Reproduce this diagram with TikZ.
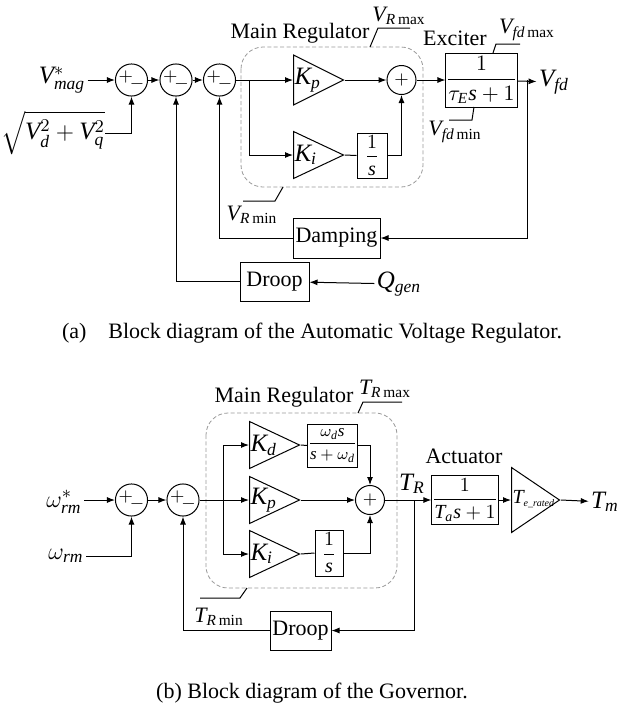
\documentclass[tikz,border=0pt]{standalone}
\usepackage{amsmath}
\usepackage{fontspec}
\setmainfont{Liberation Serif}
\DeclareSymbolFont{tletters}{TU}{\rmdefault}{m}{it}
\def\setletters#1{\ifx#1\relax\else\DeclareMathSymbol{#1}{\mathalpha}{tletters}{`#1}\expandafter\setletters\fi}
\setletters abcdefghijklmnopqrstuvwxyzABCDEFGHIJKLMNOPQRSTUVWXYZ\relax
\newcommand{\pmsign}{${+}\mkern-3mu\raisebox{-3.5pt}{${-}$}$\hspace{2pt}}
\usetikzlibrary{arrows.meta,shapes.geometric}

\begin{document}
\begin{tikzpicture}[x=0.5pt, y=-0.5pt, line width=0.5pt, >={Latex[length=4pt,width=3pt]},
  sumnode/.style={draw, circle, minimum size=14.5pt, inner sep=0pt, font=\fontsize{9}{10}\selectfont},
  blockbox/.style={draw, rectangle, inner sep=0pt},
  gaintri/.style={draw, isosceles triangle, isosceles triangle stretches, inner sep=0pt, anchor=west},
  lab/.style={inner sep=1pt, font=\fontsize{12.5}{14}\selectfont},
  limlab/.style={inner sep=0pt, font=\fontsize{11}{13}\selectfont},
  title/.style={inner sep=0pt, font=\fontsize{11}{13}\selectfont},
  regbox/.style={draw=gray!80, dash pattern=on 2pt off 1.2pt, line width=0.4pt, rounded corners=11pt}]
\useasboundingbox (0,0) rectangle (618,709);

% (a) automatic voltage regulator
\node[title] (mra) at (300,33) {Main Regulator};
\draw[regbox] (241,47) rectangle (423,187);
\node[lab] (vmag) at (62,80) {$V_{mag}^{*}$};
\node[lab, inner sep=0pt] (vdq) at (53,133) {$\sqrt{V_d^2+V_q^2}$};
\node[sumnode] (s1) at (131.5,80) {\pmsign};
\node[sumnode] (s2) at (176,80) {\pmsign};
\node[sumnode] (s3) at (219.5,80) {\pmsign};
\node[gaintri, minimum width=25pt, minimum height=25pt] (kp) at (293,80) {};
\node[gaintri, minimum width=23.5pt, minimum height=25pt] (ki) at (293,155) {};
\node[lab, anchor=west, inner sep=0pt] (kpl) at (294,80) {$K_p$};
\node[lab, anchor=west, inner sep=0pt] (kil) at (294,155) {$K_i$};
\node[blockbox, minimum width=15pt, minimum height=22.5pt, font=\fontsize{10}{12}\selectfont] (int1) at (372,155.5) {$\dfrac{1}{s}$};
\node[sumnode] (s4) at (401.5,80) {$+$};
\node[blockbox, minimum width=34.5pt, minimum height=27pt, font=\fontsize{11}{13}\selectfont] (exc) at (481.5,80) {$\dfrac{1}{\tau_E s+1}$};
\node[title] (exct) at (455,38) {Exciter};
\node[lab] (vfd) at (554,82) {$V_{fd}$};
\node[blockbox, title, minimum width=43.5pt, minimum height=20pt] (damp) at (336.5,238) {Damping};
\node[blockbox, title, minimum width=34.5pt, minimum height=19.5pt] (droopa) at (274.5,281.5) {Droop};
\node[lab] (qgen) at (399,284) {$Q_{gen}$};
\node[limlab] (vrmax) at (399,16) {$V_{R\max}$};
\node[limlab] (vfdmax) at (527,30) {$V_{fd\max}$};
\node[limlab] (vfdmin) at (455,132) {$V_{fd\min}$};
\node[limlab] (vrmin) at (252,215) {$V_{R\min}$};
\coordinate (bra) at (249,80);
\coordinate (fba) at (527,80);

\draw[->] (vmag.east |- s1) -- (s1);
\draw[->] (vdq.east) -| (s1.south);
\draw[->] (s1) -- (s2);
\draw[->] (s2) -- (s3);
\draw[->] (s3) -- (kp.west);
\draw[->] (bra) |- (ki.west);
\draw (ki.apex) -- (int1.west);
\draw[->] (int1.east) -| (s4.south);
\draw[->] (kp.apex) -- (s4.west);
\draw[->] (s4) -- (exc);
\draw[->] (exc) -- (vfd);
\draw[->] (fba) |- (damp.east);
\draw[->] (damp.west) -| (s3.south);
\draw[->] (qgen) -- (droopa);
\draw[->] (droopa.west) -| (s2.south);
\draw (370,47) -- (378,28) -- (410,28);
\draw (493,53) -- (496,44) -- (520,44);
\draw (474,107) -- (472,120) -- (449,120);
\draw (283,187) -- (275,201) -- (243,201);

\node[title] (capa) at (312,333) {(a)\quad Block diagram of the Automatic Voltage Regulator.};

% (b) governor
\node[title] (mrb) at (284,397) {Main Regulator};
\draw[regbox] (206,413) rectangle (397,588);
\node[lab] (wref) at (64,502) {$\omega_{rm}^{*}$};
\node[lab] (wrm) at (66,556) {$\omega_{rm}$};
\node[sumnode] (s1b) at (131.5,500) {\pmsign};
\node[sumnode] (s2b) at (183,500) {\pmsign};
\node[gaintri, minimum width=23.5pt, minimum height=25pt] (kd) at (249,445) {};
\node[gaintri, minimum width=23.5pt, minimum height=25pt] (kpb) at (249,500) {};
\node[gaintri, minimum width=23.5pt, minimum height=25pt] (kib) at (249,554) {};
\node[lab, anchor=west, inner sep=0pt] (kdl) at (250,445) {$K_d$};
\node[lab, anchor=west, inner sep=0pt] (kpbl) at (250,500) {$K_p$};
\node[lab, anchor=west, inner sep=0pt] (kibl) at (250,554) {$K_i$};
\node[blockbox, minimum width=24.5pt, minimum height=21.5pt, font=\fontsize{8.5}{10}\selectfont] (der) at (332.5,445.5) {$\dfrac{\omega_d s}{s+\omega_d}$};
\node[blockbox, minimum width=14pt, minimum height=23pt, font=\fontsize{10}{12}\selectfont] (int2) at (329,553) {$\dfrac{1}{s}$};
\node[sumnode] (s5) at (370,500) {$+$};
\node[lab] (tr) at (412,484) {$T_R$};
\node[blockbox, minimum width=30pt, minimum height=24.5pt, font=\fontsize{10}{12}\selectfont] (act) at (465,500) {$\dfrac{1}{T_a s+1}$};
\node[title] (actt) at (464,456) {Actuator};
\node[gaintri, minimum width=32.5pt, minimum height=24pt] (rated) at (511,500) {};
\node[anchor=west, inner sep=0pt] (ratedl) at (512,499) {$T_{\scriptscriptstyle e\_rated}$};
\node[lab] (tm) at (605,502) {$T_m$};
\node[blockbox, title, minimum width=30.5pt, minimum height=19.5pt] (droopb) at (300.5,630.5) {Droop};
\node[limlab] (trmax) at (385,389) {$T_{R\max}$};
\node[limlab] (trmin) at (219,617) {$T_{R\min}$};
\coordinate (brb) at (223,500);
\coordinate (fbb) at (414,500);

\draw[->] (wref.east |- s1b) -- (s1b);
\draw[->] (wrm.east) -| (s1b.south);
\draw[->] (s1b) -- (s2b);
\draw (s2b) -- (brb);
\draw[->] (brb) |- (kd.west);
\draw[->] (brb) -- (kpb.west);
\draw[->] (brb) |- (kib.west);
\draw (kd.apex) -- (der.west);
\draw[->] (der.east) -| (s5.north);
\draw[->] (kpb.apex) -- (s5.west);
\draw (kib.apex) -- (int2.west);
\draw[->] (int2.east) -| (s5.south);
\draw[->] (s5) -- (act);
\draw[->] (act) -- (rated.west);
\draw[->] (rated.apex) -- (tm);
\draw[->] (fbb) |- (droopb.east);
\draw[->] (droopb.west) -| (s2b.south);
\draw (358,413) -- (363,402) -- (402,402);
\draw (247,588) -- (240,598) -- (200,598);

\node[title] (capb) at (312,693) {(b) Block diagram of the Governor.};
\end{tikzpicture}
\end{document}
